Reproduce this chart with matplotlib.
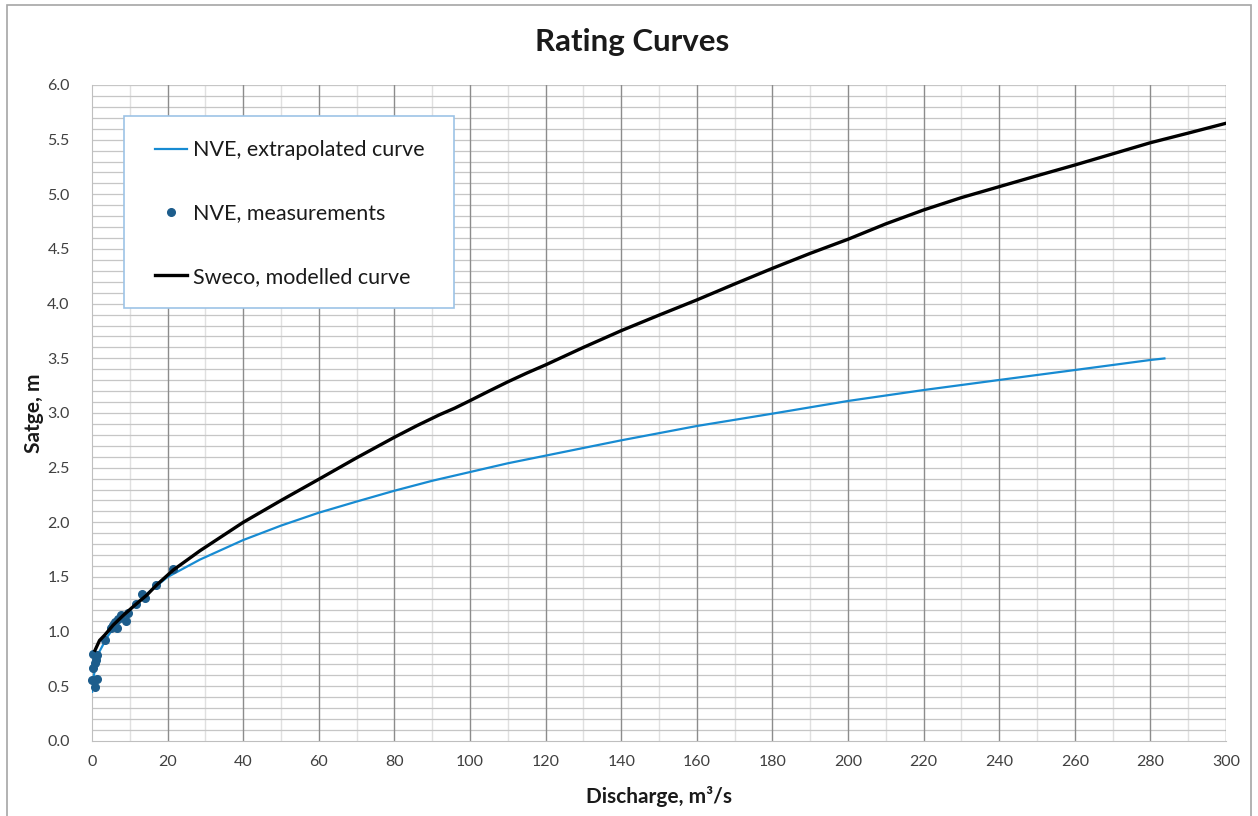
import matplotlib
matplotlib.use("Agg")
import matplotlib.pyplot as plt
from matplotlib.patches import Rectangle
from matplotlib.lines import Line2D

plt.rcParams['font.family'] = ['Lato', 'DejaVu Sans']

# NVE extrapolated rating curve (discharge m3/s, stage m)
nve_curve_q = [0.0, 0.3, 1.0, 2.0, 4.0, 6.0, 10.0, 15.0, 20.0, 28.6, 40.0, 50.0,
               60.0, 70.0, 80.0, 90.0, 100.0, 110.0, 120.0, 140.0, 160.0, 180.0,
               200.0, 220.0, 240.0, 260.0, 280.0, 284.0]
nve_curve_h = [0.44, 0.56, 0.70, 0.82, 0.95, 1.05, 1.20, 1.36, 1.50, 1.66, 1.838, 1.97,
               2.088, 2.19, 2.289, 2.38, 2.46, 2.54, 2.61, 2.75, 2.881, 2.994,
               3.11, 3.21, 3.302, 3.393, 3.485, 3.50]

# NVE gauging measurements
meas_q = [21.5, 16.9, 13.3, 14.0, 11.6, 9.4, 8.9, 7.8, 7.0, 6.1, 6.5, 5.6, 5.0,
          3.4, 0.35, 1.2, 1.06, 0.8, 0.35, 0.1, 1.4, 0.8]
meas_h = [1.57, 1.43, 1.345, 1.305, 1.25, 1.17, 1.10, 1.15, 1.12, 1.09, 1.03, 1.06,
          1.03, 0.92, 0.80, 0.79, 0.74, 0.71, 0.67, 0.56, 0.57, 0.49]

# Sweco modelled rating curve
sweco_q = [0.8, 2.0, 3.4, 5.6, 8.3, 11.4, 14.5, 17.1, 21.5, 28.6, 40.0, 50.0, 60.0,
           70.0, 80.0, 86.0, 92.0, 96.0, 100.0, 105.0, 110.0, 115.0, 120.0, 130.0,
           140.0, 150.0, 160.0, 170.0, 180.0, 190.0, 200.0, 210.0, 220.0, 230.0,
           240.0, 250.0, 260.0, 270.0, 280.0, 290.0, 300.0]
sweco_h = [0.83, 0.92, 0.97, 1.06, 1.15, 1.244, 1.335, 1.427, 1.564, 1.741, 2.0, 2.20,
           2.394, 2.59, 2.778, 2.885, 2.985, 3.045, 3.113, 3.20, 3.285, 3.365, 3.44, 3.60,
           3.753, 3.895, 4.034, 4.18, 4.323, 4.46, 4.589, 4.73, 4.857, 4.97,
           5.07, 5.17, 5.268, 5.37, 5.472, 5.56, 5.65]

x_ticks = list(range(0, 301, 20))
y_ticks = [i * 0.5 for i in range(13)]

W, H = 1258, 816
fig = plt.figure(figsize=(W / 100, H / 100), dpi=100)

# outer chart frame
fig.patches.append(Rectangle((7 / W, -0.01), (1251 - 7) / W, 1 - 5 / H + 0.01,
                             transform=fig.transFigure, fill=False,
                             edgecolor='#a6a6a6', linewidth=1.2))

ax = fig.add_axes([92 / W, 1 - 741 / H, (1226 - 92) / W, (741 - 85) / H])

ax.set_xlim(0, 300)
ax.set_ylim(0, 6.0)

# gridlines
for v in range(10, 300, 20):
    ax.axvline(v, color='#e0e0e0', linewidth=1.0, zorder=0)
for v in range(20, 301, 20):
    ax.axvline(v, color='#8c8c8c', linewidth=1.0, zorder=0.5)
for k in range(1, 61):
    ax.axhline(k * 0.1, color='#c6c6c6', linewidth=0.9, zorder=0.4)

ax.plot(nve_curve_q, nve_curve_h, color='#178bd2', linewidth=1.6, zorder=3,
        solid_capstyle='butt')
ax.plot(meas_q, meas_h, linestyle='none', marker='o', markersize=5.5,
        color='#1d5d8c', zorder=4, clip_on=False)
ax.plot(sweco_q, sweco_h, color='#000000', linewidth=2.4, zorder=5,
        solid_joinstyle='round')

ax.set_xticks(x_ticks)
ax.set_yticks(y_ticks)
ax.set_yticklabels([f"{v:.1f}" for v in y_ticks])
ax.tick_params(axis='both', length=0, labelsize=11.5, colors='#404040', pad=10)
ax.tick_params(axis='y', pad=16)
for s in ['top', 'right']:
    ax.spines[s].set_visible(False)
ax.spines['left'].set_color('#bfbfbf')
ax.spines['bottom'].set_color('#bfbfbf')

ax.set_xlabel('Discharge, m³/s', fontsize=15, fontweight='bold', color='#1a1a1a',
              labelpad=12)
ax.set_ylabel('Satge, m', fontsize=15, fontweight='bold', color='#1a1a1a',
              labelpad=2)

fig.text(632 / W, 1 - 42 / H, 'Rating Curves', fontsize=22.5, fontweight='bold',
         ha='center', va='center', color='#1a1a1a')

# legend panel
panel = Rectangle((124 / W, 1 - 308 / H), (454 - 124) / W, (308 - 116) / H,
                  transform=fig.transFigure, facecolor='white',
                  edgecolor='#9dc3e6', linewidth=1.2, zorder=9)
fig.patches.append(panel)

handles = [
    Line2D([], [], color='#178bd2', linewidth=1.6),
    Line2D([], [], linestyle='none', marker='o', markersize=5.5, color='#1d5d8c'),
    Line2D([], [], color='#000000', linewidth=2.4),
]
labels = ['NVE, extrapolated curve', 'NVE, measurements', 'Sweco, modelled curve']
leg = fig.legend(handles, labels, loc='upper left',
                 bbox_to_anchor=(155 / W, 1 - 140.5 / H),
                 fontsize=15.5, frameon=False, labelspacing=2.0,
                 handlelength=1.5, handletextpad=0.28, borderpad=0,
                 borderaxespad=0, labelcolor='#1a1a1a')
leg.set_zorder(10)

fig.savefig('out.png', dpi=100)
